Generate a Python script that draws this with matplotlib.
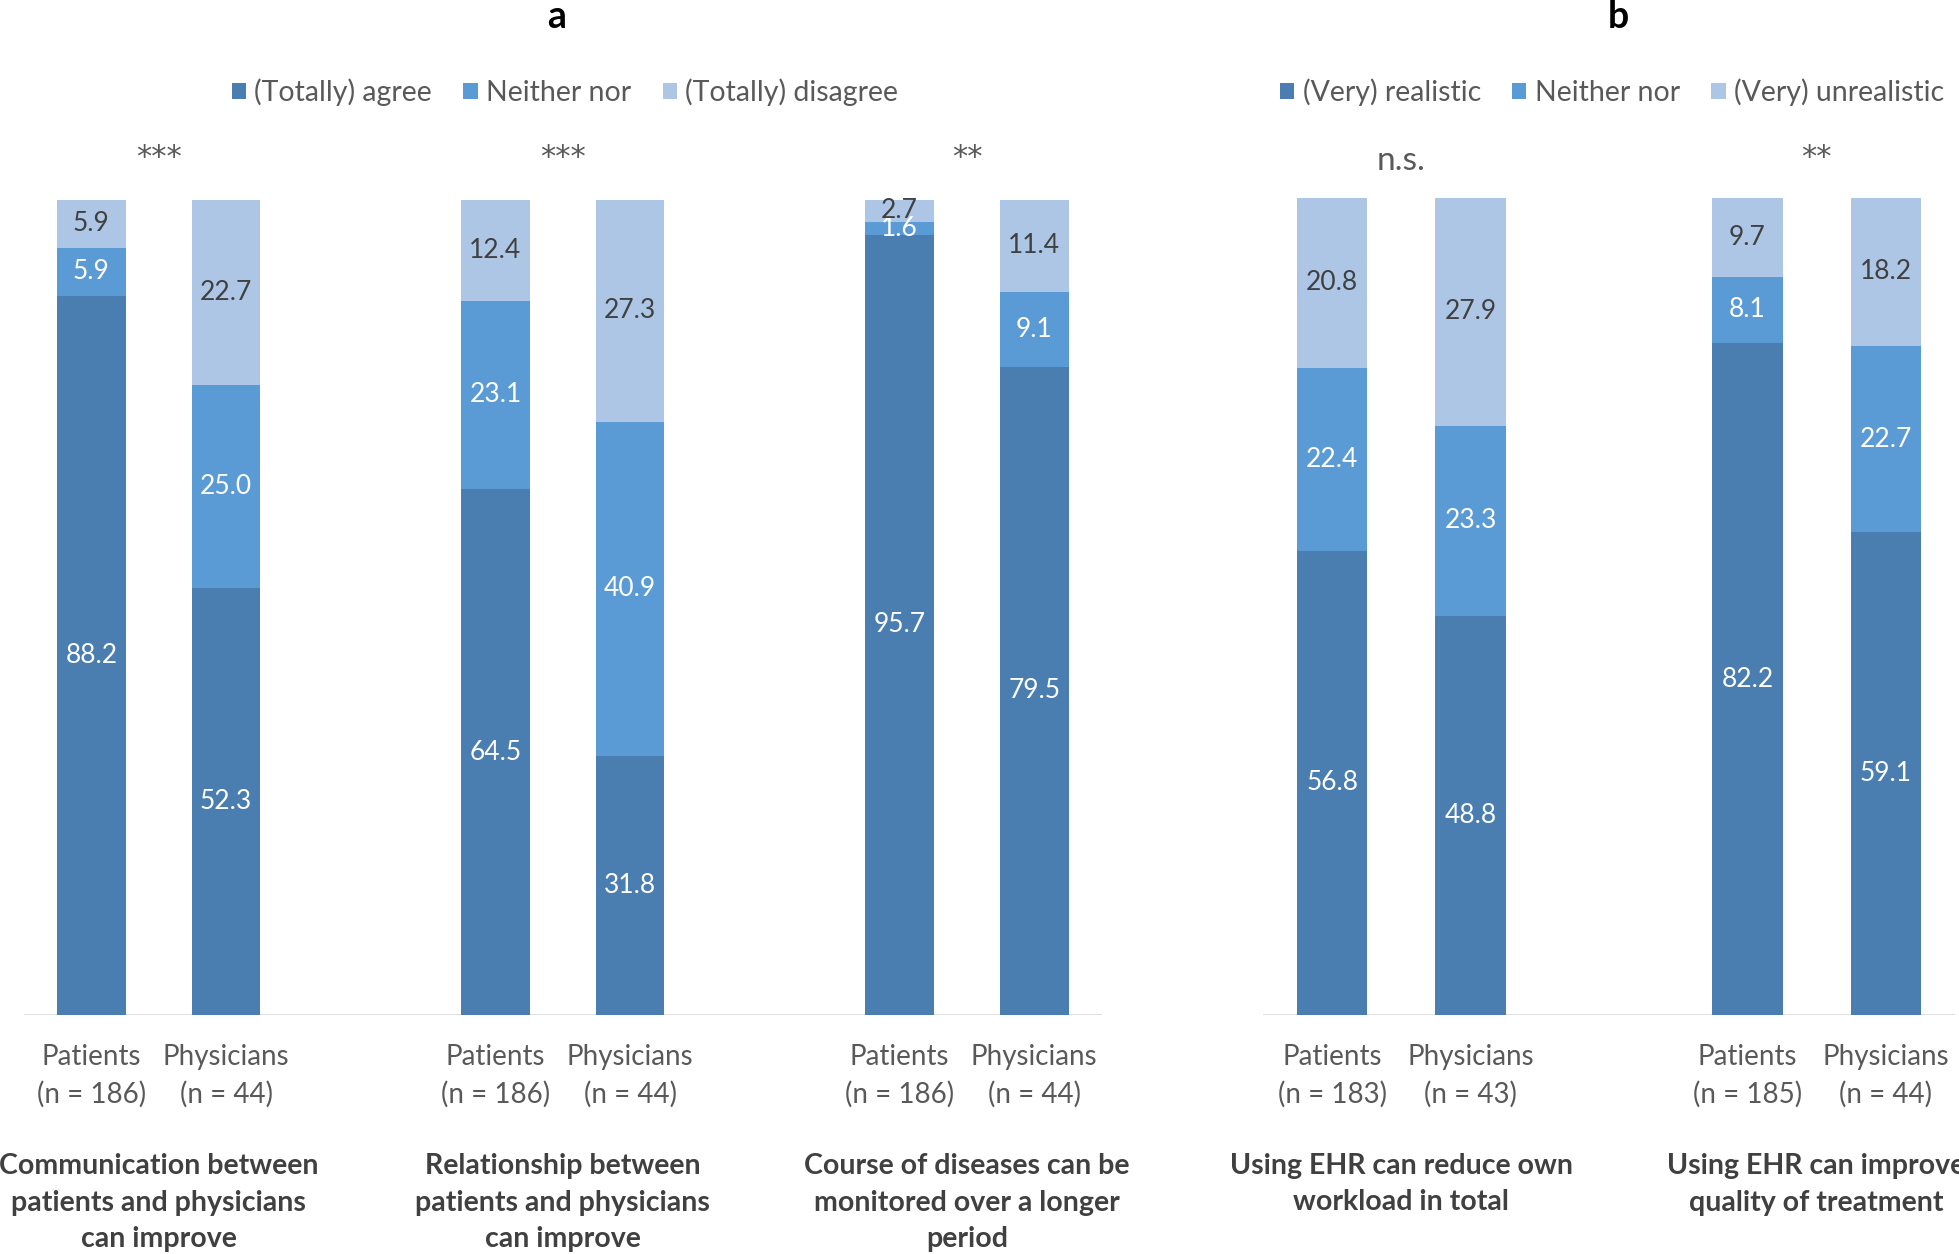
import numpy as np
import matplotlib.pyplot as plt
from matplotlib.patches import Patch
from matplotlib.transforms import blended_transform_factory

plt.rcParams['font.family'] = ['Lato', 'DejaVu Sans']

# ---- data -----------------------------------------------------------
groups = ["Patients", "Physicians"]

a_questions = ["Communication between\npatients and physicians\ncan improve",
               "Relationship between\npatients and physicians\ncan improve",
               "Course of diseases can be\nmonitored over a longer\nperiod"]
a_sig = ["***", "***", "**"]
a_n = [186, 44, 186, 44, 186, 44]
a_agree = [88.2, 52.3, 64.5, 31.8, 95.7, 79.5]
a_neither = [5.9, 25.0, 23.1, 40.9, 1.6, 9.1]
a_disagree = [5.9, 22.7, 12.4, 27.3, 2.7, 11.4]
a_legend = ["(Totally) agree", "Neither nor", "(Totally) disagree"]

b_questions = ["Using EHR can reduce own\nworkload in total",
               "Using EHR can improve\nquality of treatment"]
b_sig = ["n.s.", "**"]
b_n = [183, 43, 185, 44]
b_realistic = [56.8, 48.8, 82.2, 59.1]
b_neither = [22.4, 23.3, 8.1, 22.7]
b_unrealistic = [20.8, 27.9, 9.7, 18.2]
b_legend = ["(Very) realistic", "Neither nor", "(Very) unrealistic"]

# ---- style ----------------------------------------------------------
colors = ['#4A7EB0', '#5B9BD5', '#ADC6E6']
label_colors = ['white', 'white', '#404040']
grey = '#595959'
W, H = 1959, 1254
BASE = 1015  # pixel row of the zero line


def draw_panel(ax, stacks, ns, questions, sig, fig):
    nq = len(questions)
    x = np.array([3 * q + k for q in range(nq) for k in range(2)])
    bottom = np.zeros(len(x))
    for vals, c, tc in zip(stacks, colors, label_colors):
        vals = np.array(vals)
        ax.bar(x, vals, width=0.51, bottom=bottom, color=c, zorder=2)
        for xi, b, v in zip(x, bottom, vals):
            ax.text(xi, b + v / 2, f"{v:.1f}", ha='center', va='center',
                    color=tc, fontsize=19)
        bottom += vals

    ax.set_xlim(-0.5, 3 * nq - 1.5)
    ax.set_ylim(0, 100)
    ax.axhline(0, color='#D9D9D9', lw=1.2, zorder=1)
    for s in ax.spines.values():
        s.set_visible(False)
    ax.set_yticks([])
    ax.set_xticks(x)
    ax.set_xticklabels([f"{groups[i % 2]}\n(n = {n})" for i, n in enumerate(ns)],
                       fontsize=20, color=grey, linespacing=1.5)
    ax.tick_params(axis='x', length=0, pad=21)

    trans = blended_transform_factory(ax.transData, fig.transFigure)
    for q in range(nq):
        xc = 3 * q + 0.5
        if '*' in sig[q]:
            ax.text(xc, 1 - 166 / H, sig[q], transform=trans, ha='center',
                    va='baseline', fontsize=22, color=grey, family='DejaVu Sans')
        else:
            ax.text(xc, 1 - 170 / H, sig[q], transform=trans, ha='center',
                    va='baseline', fontsize=24, color=grey)
        ax.text(xc, 1 - 1153 / H, questions[q], transform=trans, ha='center',
                va='top', fontsize=20.5, fontweight='bold', color='#404040',
                linespacing=1.5, clip_on=False)


fig = plt.figure(figsize=(W / 100, H / 100), dpi=100)

ax_a = fig.add_axes([24 / W, (H - BASE) / H, 1077.6 / W, (BASE - 199.5) / H])
draw_panel(ax_a, [a_agree, a_neither, a_disagree], a_n, a_questions, a_sig, fig)

ax_b = fig.add_axes([1263 / W, (H - BASE) / H, 692 / W, (BASE - 197.5) / H])
draw_panel(ax_b, [b_realistic, b_neither, b_unrealistic], b_n, b_questions, b_sig, fig)

# panel letters
fig.text(557 / W, 1 - 28 / H, "a", ha='center', va='baseline', fontsize=27,
         fontweight='bold', color='black')
fig.text(1618 / W, 1 - 28 / H, "b", ha='center', va='baseline', fontsize=27,
         fontweight='bold', color='black')

# legends
for labels, xc in [(a_legend, 565), (b_legend, 1612)]:
    handles = [Patch(facecolor=c, edgecolor='none') for c in colors]
    leg = fig.legend(handles, labels, loc='center', ncol=3, frameon=False,
                     bbox_to_anchor=(xc / W, 1 - 92.5 / H), fontsize=20.5,
                     handlelength=0.5, handleheight=0.5, handletextpad=0.3,
                     columnspacing=1.1, labelcolor=grey)

fig.savefig("out.png", dpi=100)
